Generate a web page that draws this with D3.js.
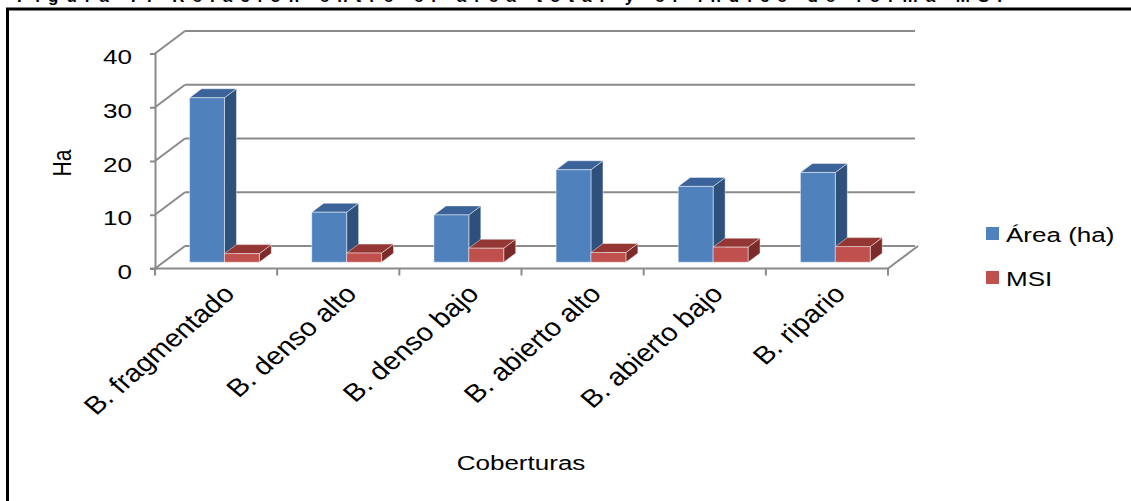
<!DOCTYPE html>
<html>
<head>
<meta charset="utf-8">
<script src="https://cdn.jsdelivr.net/npm/d3@7"></script>
<style>
  html, body { margin: 0; padding: 0; background: #fff; }
  svg { display: block; font-family: "Liberation Sans", Arial, sans-serif; }
</style>
</head>
<body>
<svg id="chart" width="1131" height="501"></svg>
<script>
// Chart data
const categories = ["B. fragmentado", "B. denso alto", "B. denso bajo", "B. abierto alto", "B. abierto bajo", "B. ripario"];
const seriesNames = ["Área (ha)", "MSI"];
const areaHa = [30.6, 9.3, 8.8, 17.2, 14.1, 16.7];
const msi = [1.6, 1.7, 2.6, 1.8, 2.8, 2.9];
const yTicks = [0, 10, 20, 30, 40];
const title = "Figura 7. Relación entre el área total y el índice de forma MSI";

const seriesValues = [areaHa, msi];
const faceColors = [
  { front: "#4f81bd", side: "#30507c", top: "#3b639a" },
  { front: "#c0504d", side: "#7b2c2a", top: "#943734" }
];

const svg = d3.select("#chart");

// Text in this figure is drawn horizontally widened
const sx = 1.24;
const fontSize = 21;
const catFontSize = 25, catSx = 1.16;

// Plot geometry (front plane) and the oblique depth of the 3D box
const left = 155, right = 888;
const depthX = 30, depthY = -22.5;
const barF0 = 0.28, barF1 = 0.68;   // bar front/back depth fractions

const x = d3.scaleBand().domain(categories).range([left, right]).padding(0);
const xs = d3.scaleBand().domain(seriesNames).range([0, x.bandwidth()])
  .paddingInner(0).paddingOuter(0.75);
const y = d3.scaleLinear().domain([0, 40]).range([268.5, 53.5]);

const proj = (px, py, f) => [px + f * depthX, py + f * depthY];
const gridColor = "#8a8a8a";

// Caption above the frame (mostly cropped by the page edge)
svg.append("text")
  .attr("x", 17).attr("y", 1.5)
  .attr("font-size", 17).attr("font-weight", "bold")
  .attr("textLength", 985).attr("lengthAdjust", "spacing")
  .text(title);

// Outer frame
svg.append("rect")
  .attr("x", 7.5).attr("y", 9).attr("width", 1140).attr("height", 520)
  .attr("fill", "none").attr("stroke", "#000").attr("stroke-width", 3);

const walls = svg.append("g").attr("stroke", gridColor).attr("stroke-width", 2).attr("fill", "none");

// Back wall gridlines and side wall diagonals
yTicks.forEach(v => {
  const [bx, by] = proj(left, y(v), 1);
  walls.append("line").attr("x1", left).attr("y1", y(v)).attr("x2", bx).attr("y2", by);
  walls.append("line").attr("x1", bx).attr("y1", by).attr("x2", right + depthX - 3).attr("y2", by);
});

// Floor front and right edges
const [frx, fry] = proj(right, y(0), 1);
walls.append("line").attr("x1", left - 5).attr("y1", y(0)).attr("x2", right).attr("y2", y(0));
walls.append("line").attr("x1", right).attr("y1", y(0)).attr("x2", frx).attr("y2", fry);

// Vertical value axis on the front-left edge
const yAxis = d3.axisLeft(y).tickValues(yTicks).tickSize(5).tickPadding(20).tickFormat(d3.format("d"));
const yg = svg.append("g").attr("transform", `translate(${left},0)`).call(yAxis);
yg.select(".domain").attr("stroke", gridColor).attr("stroke-width", 2);
yg.selectAll(".tick line").attr("stroke", gridColor).attr("stroke-width", 2);
yg.selectAll(".tick text")
  .attr("x", 0)
  .attr("transform", `translate(-23,0) scale(${sx},1)`)
  .attr("font-size", fontSize).attr("fill", "#000")
  .attr("font-family", "Liberation Sans, Arial, sans-serif").attr("dy", "0.48em");

// Category axis ticks along the front floor edge
const catBounds = categories.map(c => x(c)).concat([right]);
svg.append("g").selectAll("line").data(catBounds).join("line")
  .attr("x1", d => d).attr("x2", d => d)
  .attr("y1", y(0)).attr("y2", y(0) + 7)
  .attr("stroke", gridColor).attr("stroke-width", 2);

// 3D bars
const bars = svg.append("g").attr("stroke", "rgba(255,255,255,0.45)").attr("stroke-width", 1)
  .attr("stroke-linejoin", "round");
const poly = pts => pts.map(p => p.join(",")).join(" ");
categories.forEach((c, i) => {
  seriesNames.forEach((s, j) => {
    const v = seriesValues[j][i];
    const x0 = x(c) + xs(s), x1 = x0 + xs.bandwidth();
    const yt = y(v), yb = y(0);
    const a = proj(x0, yt, barF0), b = proj(x1, yt, barF0);
    const cc = proj(x1, yt, barF1), d = proj(x0, yt, barF1);
    const e = proj(x1, yb, barF0), g = proj(x1, yb, barF1), h = proj(x0, yb, barF0);
    bars.append("polygon").attr("points", poly([b, cc, g, e])).attr("fill", faceColors[j].side);
    bars.append("polygon").attr("points", poly([a, b, cc, d])).attr("fill", faceColors[j].top);
    bars.append("polygon").attr("points", poly([a, b, e, h])).attr("fill", faceColors[j].front);
  });
});

// Rotated category labels
svg.append("g").selectAll("text").data(categories).join("text")
  .attr("transform", d => `translate(${x(d) + x.bandwidth() / 2 + 20},${y(0) + 27}) scale(${catSx},1) rotate(-45)`)
  .attr("text-anchor", "end")
  .attr("font-size", catFontSize).attr("fill", "#000")
  .text(d => d);

// Axis titles
svg.append("text")
  .attr("transform", `translate(71,163) scale(${sx},1) rotate(-90)`)
  .attr("text-anchor", "middle").attr("font-size", fontSize).attr("fill", "#000")
  .text("Ha");
svg.append("text")
  .attr("transform", `translate(521,470) scale(${sx},1)`)
  .attr("text-anchor", "middle").attr("font-size", fontSize).attr("fill", "#000")
  .text("Coberturas");

// Legend
const legend = svg.append("g").selectAll("g").data(seriesNames).join("g")
  .attr("transform", (d, i) => `translate(986,${227 + i * 44})`);
legend.append("rect").attr("width", 13).attr("height", 13)
  .attr("fill", (d, i) => faceColors[i].front);
legend.append("text")
  .attr("transform", `translate(20,15) scale(${sx},1)`)
  .attr("font-size", fontSize).attr("fill", "#000")
  .text(d => d);
</script>
</body>
</html>
